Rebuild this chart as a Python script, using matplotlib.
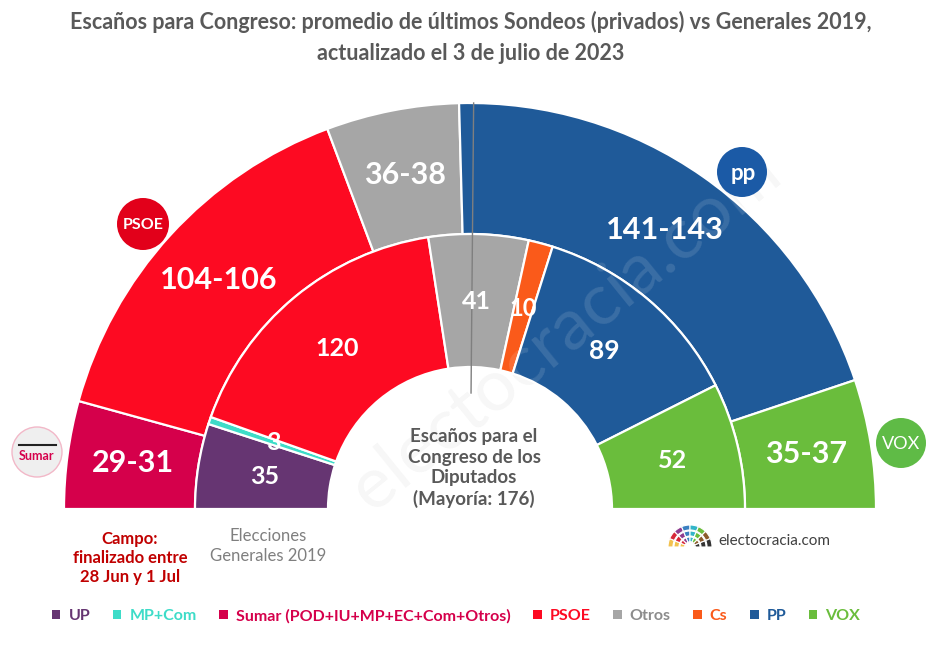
import numpy as np
import matplotlib
matplotlib.use('Agg')
import matplotlib.pyplot as plt
from matplotlib.patches import Wedge, Circle, Patch

plt.rcParams['font.family'] = ['Lato', 'DejaVu Sans']

TOTAL = 350
MAJORITY = 176

# outer ring: poll average (range low-high)
outer_parties = ['Sumar', 'PSOE', 'Otros', 'PP', 'VOX']
outer_low = [29, 104, 36, 141, 35]
outer_high = [31, 106, 38, 143, 37]

# inner ring: general election 2019
inner_parties = ['UP', 'MP+Com', 'PSOE', 'Otros', 'Cs', 'PP', 'VOX']
inner_seats = [35, 3, 120, 41, 10, 89, 52]

legend_keys = ['UP', 'MP+Com', 'Sumar', 'PSOE', 'Otros', 'Cs', 'PP', 'VOX']
legend_labels = ['UP', 'MP+Com', 'Sumar (POD+IU+MP+EC+Com+Otros)', 'PSOE',
                 'Otros', 'Cs', 'PP', 'VOX']

colors = {
    'UP': '#663572',
    'MP+Com': '#3ddcc8',
    'Sumar': '#d5004b',
    'PSOE': '#fd0a22',
    'Otros': '#a6a6a6',
    'Cs': '#fa5a1a',
    'PP': '#1f5a99',
    'VOX': '#6abd3c',
}
text_colors = dict(colors)
text_colors['Otros'] = '#8c8c8c'

fig = plt.figure(figsize=(9.4, 6.48), dpi=100)
ax = fig.add_axes([0, 0, 1, 1])
ax.set_xlim(0, 940)
ax.set_ylim(648, 0)
ax.axis('off')

cx, cy = 470, 509
R_out, R_mid, R_in = 406, 275, 142


def ang(c):
    # seats counted from the left -> visual angle (deg); y axis is inverted
    return 180 - 180.0 * c / TOTAL


def ring(values, names, r, w, labels, lab_r, sizes):
    cum = 0
    for v, n, lab, fs in zip(values, names, labels, sizes):
        a0, a1 = ang(cum), ang(cum + v)
        ax.add_patch(Wedge((cx, cy), r, -a0, -a1, width=w, fc=colors[n],
                           ec='white', lw=1.6, zorder=2))
        am = np.radians(ang(cum + v / 2))
        ax.text(cx + lab_r * np.cos(am), cy - lab_r * np.sin(am), lab,
                color='white', fontsize=fs, fontweight='bold',
                ha='center', va='center', zorder=5)
        cum += v


# watermark below the rings
wm = dict(fontsize=52, rotation=39, ha='center', va='center')
ax.text(565, 330, 'electocracia.com', color='#000000', alpha=0.04, zorder=0, **wm)

outer_mid = [(a + b) / 2 for a, b in zip(outer_low, outer_high)]
outer_labels = ['%d-%d' % (a, b) for a, b in zip(outer_low, outer_high)]
ring(outer_mid, outer_parties, R_out, R_out - R_mid, outer_labels, 340,
     [22] * 5)
ring(inner_seats, inner_parties, R_mid, R_mid - R_in,
     [str(v) for v in inner_seats], 208, [18, 18, 18, 18, 17, 19, 18])

# watermark on top of the rings, whitish
ax.text(565, 330, 'electocracia.com', color='white', alpha=0.12, zorder=3, **wm)

# majority line
am = np.radians(ang(MAJORITY))
ax.plot([cx + 116 * np.cos(am), cx + R_out * np.cos(am)],
        [cy - 116 * np.sin(am), cy - R_out * np.sin(am)],
        color='#7f7f7f', lw=1.0, zorder=4)

# title
ax.text(471, 22, 'Escaños para Congreso: promedio de últimos Sondeos (privados) vs Generales 2019,',
        ha='center', va='center', fontsize=15.5, fontweight='bold', color='#595959')
ax.text(471, 53, 'actualizado el 3 de julio de 2023',
        ha='center', va='center', fontsize=15.5, fontweight='bold', color='#595959')

# centre text
ax.text(474, 468, 'Escaños para el\nCongreso de los\nDiputados\n(Mayoría: 176)',
        ha='center', va='center', fontsize=13.5, fontweight='bold', color='#595959',
        linespacing=1.25, zorder=6)

ax.text(130, 558, 'Campo:\nfinalizado entre\n28 Jun y 1 Jul', ha='center', va='center',
        fontsize=12, fontweight='bold', color='#c00000', linespacing=1.25)
ax.text(268, 546, 'Elecciones\nGenerales 2019', ha='center', va='center',
        fontsize=12, color='#7f7f7f', linespacing=1.25)

# party badges
ax.add_patch(Circle((143, 224), 26, fc='#e2001a', ec='none', zorder=6))
ax.text(143, 225, 'PSOE', color='white', fontsize=11.5, fontweight='bold',
        ha='center', va='center', zorder=7)
ax.add_patch(Circle((37, 452), 25, fc='#efefef', ec='#f2b8c8', lw=1, zorder=6))
ax.plot([19, 56], [445, 445], color='#222222', lw=1.5, zorder=7)
ax.text(37, 456, 'Sumar', color='#d5004b', fontsize=9, fontweight='bold',
        ha='center', va='center', zorder=7)
ax.add_patch(Circle((742, 172), 25, fc='#1b5aa6', ec='none', zorder=6))
ax.text(743, 174, 'pp', color='white', fontsize=16, fontweight='bold',
        ha='center', va='center', zorder=7)
ax.add_patch(Circle((901, 443), 25, fc='#5fbb46', ec='none', zorder=6))
ax.text(901, 444, 'VOX', color='white', fontsize=13,
        ha='center', va='center', zorder=7)

# electocracia logo
logo_cols = ['#f2c14e', '#d62839', '#8e3b8f', '#3a7fc1', '#33b5c8',
             '#6bbd3c', '#8b5a2b', '#333333']
n = len(logo_cols)
for k, col in enumerate(logo_cols):
    for rr in (22, 16, 10):
        ax.add_patch(Wedge((690, 547), rr, -180 + k * 180 / n, -180 + (k + 1) * 180 / n,
                           width=5, fc=col, ec='white', lw=0.8, zorder=6))
ax.text(718, 541, 'electocracia.com', fontsize=11, color='#404040',
        ha='left', va='center')

# legend
handles = [Patch(fc=colors[k], ec='none') for k in legend_keys]
ax.legend(handles, legend_labels, loc='center', bbox_to_anchor=(456 / 940, 1 - 616 / 648),
          ncol=8, frameon=False, handlelength=0.55, handleheight=0.55,
          handletextpad=0.5, columnspacing=1.4,
          labelcolor=[text_colors[k] for k in legend_keys],
          prop={'weight': 'bold', 'size': 11.5})

fig.savefig('out.png', dpi=100, facecolor='white')
